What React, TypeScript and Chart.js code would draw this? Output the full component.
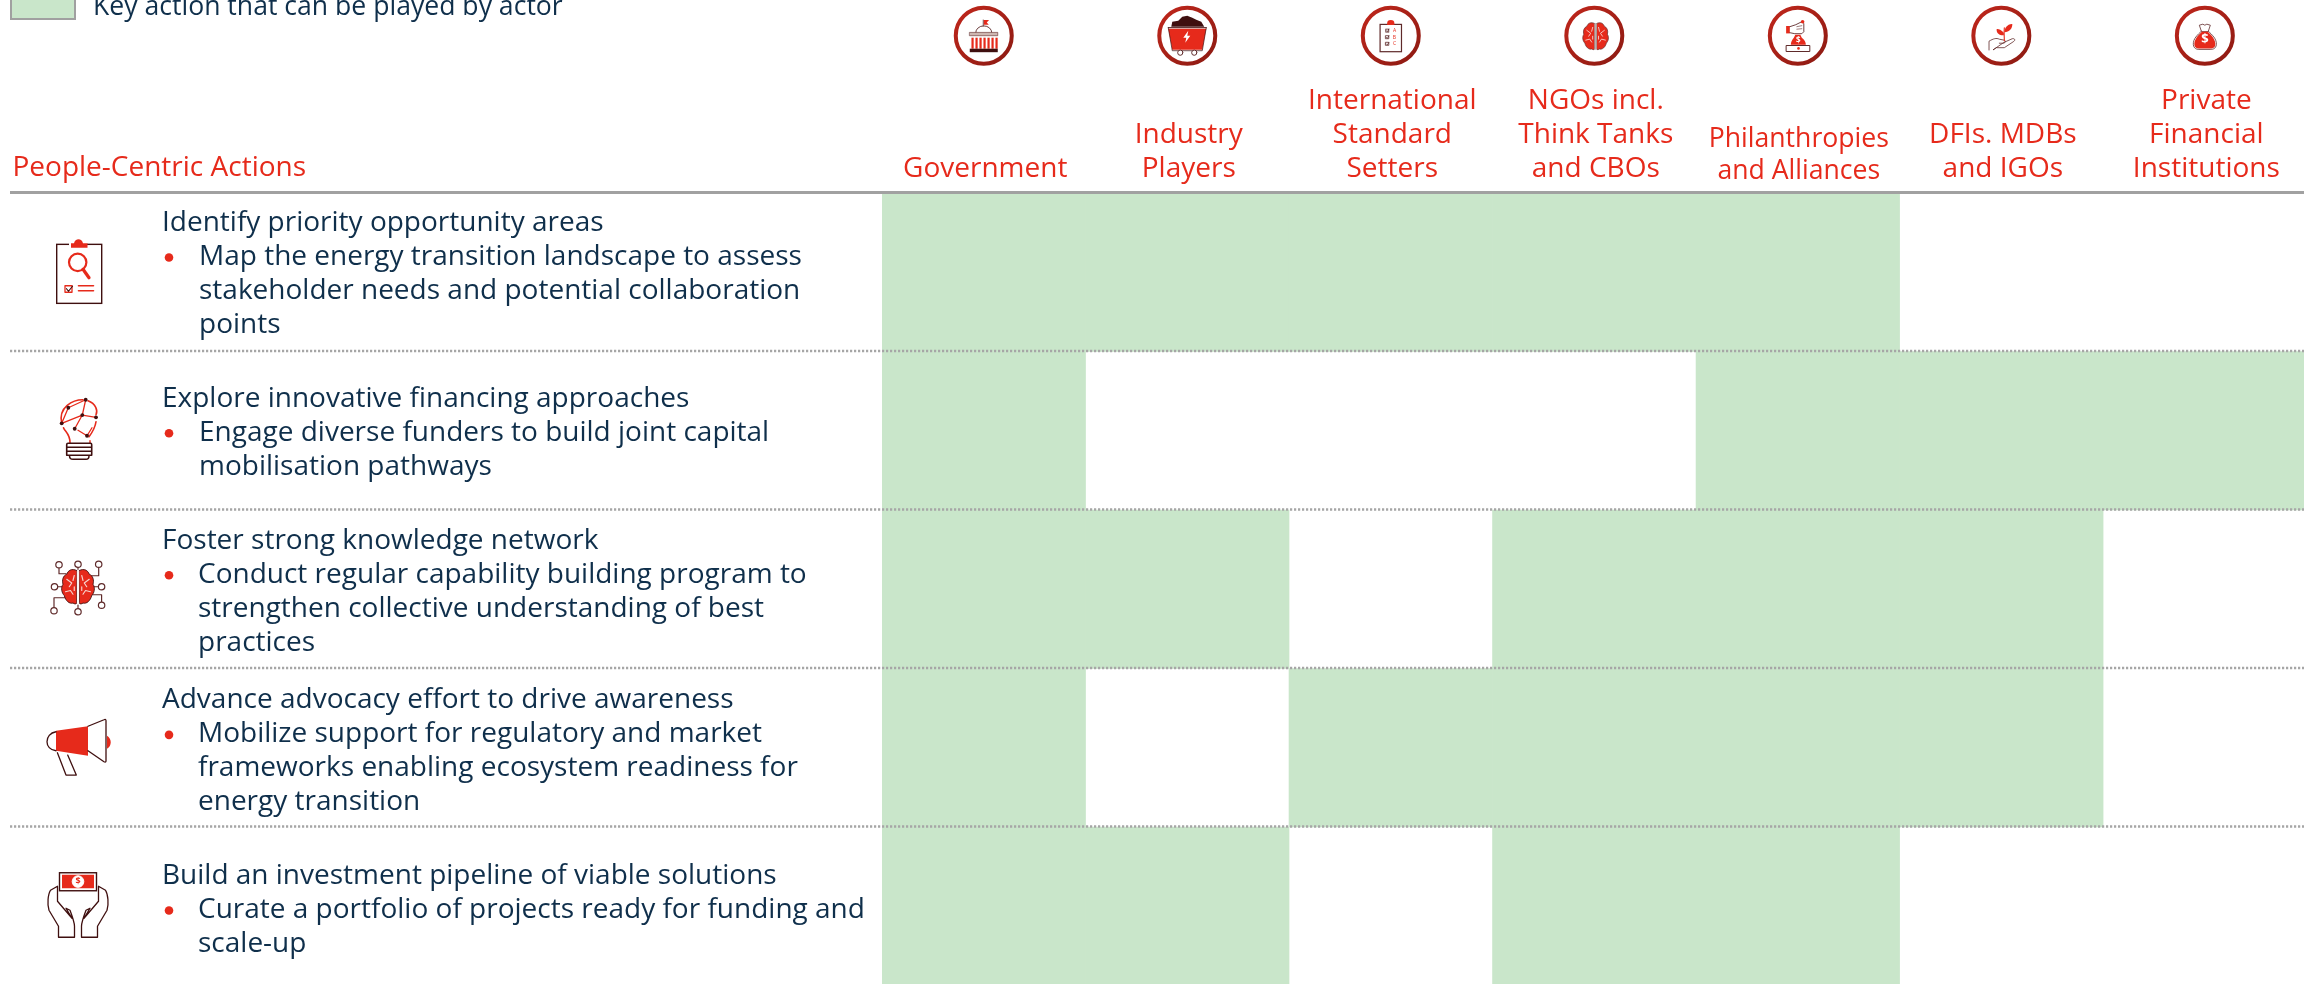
import React, { useEffect, useRef } from "react";
import { Chart, registerables } from "chart.js";

Chart.register(...registerables);

const actors = [
  "Government",
  ["Industry", "Players"],
  ["International", "Standard", "Setters"],
  ["NGOs incl.", "Think Tanks", "and CBOs"],
  ["Philanthropies", "and Alliances"],
  ["DFIs. MDBs", "and IGOs"],
  ["Private", "Financial", "Institutions"],
];

const actionTitles = [
  "Identify priority opportunity areas",
  "Explore innovative financing approaches",
  "Foster strong knowledge network",
  "Advance advocacy effort to drive awareness",
  "Build an investment pipeline of viable solutions",
];

const actionBullets = [
  ["Map the energy transition landscape to assess", "stakeholder needs and potential collaboration", "points"],
  ["Engage diverse funders to build joint capital", "mobilisation pathways"],
  ["Conduct regular capability building program to", "strengthen collective understanding of best", "practices"],
  ["Mobilize support for regulatory and market", "frameworks enabling ecosystem readiness for", "energy transition"],
  ["Curate a portfolio of projects ready for funding and", "scale-up"],
];

const identifyRow = [1, 1, 1, 1, 1, 0, 0];
const exploreRow = [1, 0, 0, 0, 1, 1, 1];
const fosterRow = [1, 1, 0, 1, 1, 1, 0];
const advanceRow = [1, 0, 1, 1, 1, 1, 0];
const buildRow = [1, 1, 0, 1, 1, 0, 0];
const keyRows = [identifyRow, exploreRow, fosterRow, advanceRow, buildRow];

const legendLabel = "Key action that can be played by actor";
const headerLabel = "People-Centric Actions";

const RED = "#e62a1b";
const NAVY = "#0f2f4b";
const GREEN = "#c9e6ca";
const DARK = "#3f0f0f";
const BROWN = "#5f2a2a";
const FONT = '"Open Sans"';
const titleOffsets = [-41.2, -24, -40.5, -39.4, -22.2];
const bulletX = [199, 199, 198, 198, 198];
const PHIL = 4;

type C = CanvasRenderingContext2D;
const fillP = (c: C, d: string, col = RED) => { c.fillStyle = col; c.fill(new Path2D(d)); };
const strokeP = (c: C, d: string, col = BROWN, w = 1.2) => { c.strokeStyle = col; c.lineWidth = w; c.lineJoin = "round"; c.lineCap = "round"; c.stroke(new Path2D(d)); };
const dot = (c: C, x: number, y: number, r: number, col = RED) => { c.fillStyle = col; c.beginPath(); c.arc(x, y, r, 0, 7); c.fill(); };
const ring = (c: C, x: number, y: number, r: number, col = BROWN, w = 1.2, fill?: string) => {
  c.beginPath(); c.arc(x, y, r, 0, 7);
  if (fill) { c.fillStyle = fill; c.fill(); }
  c.strokeStyle = col; c.lineWidth = w; c.stroke();
};

function brain(c: C, s: number, edge = BROWN) {
  c.save(); c.scale(s, s);
  const lobe = "M-1,-13 C-5,-15 -8,-13 -9,-10 C-12,-9 -13,-5 -12,-2 C-14,1 -13,5 -11,7 C-10,11 -7,14 -4,13 C-3,14 -1,14 -1,13 Z";
  const right = "M1,-13 C5,-15 8,-13 9,-10 C12,-9 13,-5 12,-2 C14,1 13,5 11,7 C10,11 7,14 4,13 C3,14 1,14 1,13 Z";
  fillP(c, lobe); fillP(c, right);
  strokeP(c, lobe, edge, 0.7); strokeP(c, right, edge, 0.7);
  strokeP(c, "M-9,-6 L-5,-3 L-7,0 M-3,-9 L-4,-5 M-10,4 L-6,3 L-4,6 M-3,0 L-3,3 M9,-6 L5,-3 L7,0 M3,-9 L4,-5 M10,4 L6,3 L4,6 M3,0 L3,3", "#f7d5d0", 0.9);
  c.restore();
}

const headerIcons: ((c: C) => void)[] = [
  (c) => {
    fillP(c, "M0,-15.7 H5.3 L3,-13.3 L5,-11 H0 Z");
    strokeP(c, "M-0.5,-15.7 V-9.5", BROWN, 0.8);
    strokeP(c, "M-8,-3.3 A8,6.5 0 0 1 8,-3.3", BROWN, 0.9);
    c.fillStyle = "#cdb6b0"; c.fillRect(-14, -3.3, 28, 3.3);
    c.strokeStyle = BROWN; c.lineWidth = 0.6; c.strokeRect(-14, -3.3, 28, 3.3);
    for (let i = 0; i < 7; i++) { c.fillStyle = RED; c.fillRect(-12.3 + i * 4, 2, 2.2, 11); }
    c.fillStyle = DARK; c.fillRect(-14, 13, 28, 3.5);
  },
  (c) => {
    fillP(c, "M-16,-9 L-15,-14 L-9,-15 L-5,-19 L0,-20 L5,-18 L9,-16 L14,-14 L17,-9 Z", DARK);
    strokeP(c, "M-19,-8 H19", DARK, 1);
    fillP(c, "M-19,-7 H19 L15,14 H-15 Z");
    strokeP(c, "M-19,-8 L-15,15 H15 L19,-8", DARK, 0.7);
    fillP(c, "M1,-5 L-4,2 H-1 L-2,7 L3,0 H0 Z", "#fff");
    ring(c, -7, 17, 2.6, BROWN, 1, "#fff");
    ring(c, 7, 17, 2.6, BROWN, 1, "#fff");
  },
  (c) => {
    c.strokeStyle = BROWN; c.lineWidth = 1.2; c.strokeRect(-10.7, -11.3, 21.4, 27.3);
    fillP(c, "M-3.6,-10.6 V-12.5 A3.6,3.2 0 0 1 3.6,-12.5 V-10.6 Z");
    ["A", "B", "C"].forEach((t, i) => {
      const y = -5 + i * 6.6;
      c.strokeStyle = BROWN; c.lineWidth = 0.8; c.strokeRect(-5, y - 1.6, 3, 3);
      strokeP(c, `M-4.4,${y} L-3.5,${y + 1} L-1.8,${y - 1.6}`, DARK, 0.6);
      c.fillStyle = RED; c.font = `5px ${FONT}`; c.textAlign = "center"; c.textBaseline = "middle";
      c.fillText(t, 3.7, y);
    });
  },
  (c) => {
    c.save(); c.translate(1.3, 0.5); brain(c, 0.98);
    c.fillStyle = "#b9b0ae"; c.fillRect(-1.1, -13, 2.2, 26.5);
    c.restore();
  },
  (c) => {
    fillP(c, "M-11.7,-9.7 H-8 V-2.3 H-11.7 Z");
    strokeP(c, "M-8,-9 L-2,-11 L4,-14 L6,-12 L6,-4 L4,-2 H-3 L-8,-3", BROWN, 0.9);
    strokeP(c, "M-1,-9 L4,-10 M-1,-6.5 L4,-7", BROWN, 0.6);
    dot(c, 4.8, -14, 1.8);
    fillP(c, "M-2.5,-1 H2.5 L4,2 C7,4 8,7 8,9 H-7 C-7,7 -6,4 -4,2 Z");
    c.strokeStyle = BROWN; c.lineWidth = 1; c.strokeRect(-11.3, 9.8, 23.3, 6);
    dot(c, 0.7, 12.7, 1.3);
    c.fillStyle = "#fff"; c.font = `bold 8px ${FONT}`; c.textAlign = "center"; c.textBaseline = "middle"; c.fillText("$", 0.5, 4.6);
  },
  (c) => {
    strokeP(c, "M-12.3,14.3 V5.5 C-8,3 -5,2 -2,3.5 L3,4.5 C5,5 4,8 1,7.5 L-2,7.5 M3,6.5 L11,3 C14,2.5 14,5 12,6 L3,12 L-5,12 L-8,14 Z", BROWN, 0.8);
    strokeP(c, "M3,5 C3,1 2.5,-3 3,-8", RED, 1.1);
    fillP(c, "M2.5,-3 C-1,-7 -5,-7 -4.7,-6.2 C-5,-2 -1,0 2.5,-0.5 Z");
    fillP(c, "M3,-3.5 C3,-7 6,-12 11,-11.7 C11,-7 8,-3.5 3,-3.5 Z");
  },
  (c) => {
    strokeP(c, "M-3.5,-4.5 C-7,-1 -12,3 -11.5,9 C-11,13 -8,13.7 -6,13.7 H6 C8,13.7 11,13 11.5,9 C12,3 7,-1 3.5,-4.5 M-3.5,-4.5 L-5.5,-10.5 L-2,-11.5 L0,-10.5 L2,-11.5 L5.5,-10.5 L3.5,-4.5 Z", BROWN, 0.8);
    fillP(c, "M-3,-4 H3 C6,-1 10.5,3 10.5,8.5 C10.5,11.5 8,12.7 6,12.7 H-6 C-8,12.7 -10.5,11.5 -10.5,8.5 C-10.5,3 -6,-1 -3,-4 Z");
    c.fillStyle = "#fff"; c.font = `bold 13px ${FONT}`; c.textAlign = "center"; c.textBaseline = "middle"; c.fillText("$", 0, 4);
  },
];

const rowIcons: ((c: C) => void)[] = [
  (c) => {
    c.strokeStyle = DARK; c.lineWidth = 1.4; c.strokeRect(-21.3, -27.9, 45, 59);
    c.fillStyle = "#fff"; c.fillRect(-9, -30, 18, 5);
    fillP(c, "M-7,-24.5 V-29 H-4 C-3,-34.5 4,-34.5 5,-29 H9.5 V-24.5 Z");
    ring(c, -0.3, -9.9, 8.7, RED, 2.2);
    strokeP(c, "M5,-3 L11,5.5", RED, 3.2);
    c.strokeStyle = RED; c.lineWidth = 1.3; c.strokeRect(-13, 13.5, 7, 6.5);
    strokeP(c, "M-11.5,16.5 L-9.5,19 L-5.5,14", DARK, 1.2);
    strokeP(c, "M0.5,13.5 H15.5 M0.5,18.5 H15.5", RED, 1.6);
  },
  (c) => {
    strokeP(c, "M-16.3,-7.4 C-20,-24 -5,-31 5,-31", RED, 1.6);
    strokeP(c, "M10,-30 C18,-27 20,-20 18,-16", RED, 1.6);
    strokeP(c, "M18,-9 C17,-2 14,2 11,6", RED, 1.6);
    strokeP(c, "M-14.5,-3 C-13,1 -8,3 -8,12", RED, 1.6);
    strokeP(c, "M12,12 V10", RED, 1.4);
    strokeP(c, "M7.7,-31 L-9.7,-23 M7.7,-31 L4.3,-15.7 M-9.7,-23 L-16.3,-7.4 M-16.3,-7.4 L4.3,-15.7 M4.3,-15.7 L-3.3,-2 M4.3,-15.7 L18,-13.4 M9,5 L0,-0.5 M9,5 L14,-3", RED, 1.3);
    [[7.7, -31], [-9.7, -23], [4.3, -15.7], [18, -13.4], [-16.3, -7.4], [-3.3, -2], [9, 5]].forEach((p) => dot(c, p[0], p[1], 1.9, DARK));
    strokeP(c, "M-10,12.5 H12.5 Q13.7,12.5 13.7,14 V24 M-11.3,24 V14 Q-11.3,12.5 -10,12.5 M-11.3,16.5 H13.7 M-11.3,20.5 H13.7 M-11.3,24.5 H13.7", DARK, 1.6);
    strokeP(c, "M-8.5,25 C-8.5,28.6 -6,28.6 -5,28.6 H8 C11,28.6 11,25 11,25", DARK, 1.5);
  },
  (c) => {
    c.save(); c.translate(0, -2.5);
    strokeP(c, "M-19,-19 V-13 H-12 M0,-19 V-15 M20.7,-19 V-11 H13 M-20.5,0 H-15 M20.5,0 H15 M-24,21 V11 H-12 M23.6,15 V8 H12 M0,17 V21", BROWN, 1.2);
    [[-19, -22], [0, -22.5], [20.7, -22.5], [-23.5, 0], [23.6, 0], [-24, 24], [0, 25], [23.6, 18.5]].forEach((p) => ring(c, p[0], p[1], 3.2, BROWN, 1.2, "#fff"));
    brain(c, 1.25, DARK);
    c.fillStyle = "#fff"; c.fillRect(-0.9, -17, 1.8, 35);
    c.restore();
  },
  (c) => {
    fillP(c, "M-22,-17 L10,-21.5 V8 L-22,3 Z");
    strokeP(c, "M10,-21.5 L26,-28 Q28,-29 28,-27 V13 Q28,15 26,14 L10,3", DARK, 1.3);
    strokeP(c, "M-22,-16 C-34,-14 -34,2 -22,3", DARK, 1.3);
    fillP(c, "M29,-12 C34,-9 34,-2 29,1 Z");
    strokeP(c, "M-20.6,5 L-12,27.3 H-1.7 L-10.3,7.3", DARK, 1.3);
  },
  (c) => {
    c.strokeStyle = DARK; c.lineWidth = 1.4; c.strokeRect(-18.5, -33.5, 37, 18);
    fillP(c, "M-16,-31.5 H16 V-18 H-16 Z");
    ring(c, 0, -24.7, 5.8, "#fff", 1, "#fff");
    c.fillStyle = RED; c.font = `bold 9px ${FONT}`; c.textAlign = "center"; c.textBaseline = "middle"; c.fillText("$", 0, -24.5);
    strokeP(c, "M-19.5,31 V20 L-29,4 C-31,-2 -30,-12 -27.5,-16 L-20.5,-20 V-5 L-6,12 L-12,2 L-8,4 C-5,12 -3.5,16 -3.5,20 V31 Z", DARK, 1.3);
    strokeP(c, "M19.5,31 V20 L29,4 C31,-2 30,-12 27.5,-16 L20.5,-20 V-5 L6,12 L12,2 L8,4 C5,12 3.5,16 3.5,20 V31 Z", DARK, 1.3);
  },
];

const tableDecor = {
  id: "tableDecor",
  beforeDraw(chart: any) {
    if (chart.$shifted) return;
    const it = chart.scales.x.getLabelItems()[PHIL];
    if (it) it.options.translation = [it.options.translation[0] - 0.5, it.options.translation[1] + 1];
    chart.$shifted = true;
  },
  afterDatasetsDraw(chart: any) {
    const { ctx: c, scales } = chart;
    const x = scales.x, y = scales.y;
    const right = 2304;
    c.save();
    c.setLineDash([2.2, 1.8]);
    c.strokeStyle = "#a6a6a6"; c.lineWidth = 2.4;
    for (let i = 1; i < keyRows.length; i++) {
      const p = y.getPixelForValue(i) - 0.5;
      c.beginPath(); c.moveTo(10, p); c.lineTo(right, p); c.stroke();
    }
    c.setLineDash([]);
    c.strokeStyle = "#a1a1a1"; c.lineWidth = 3;
    c.beginPath(); c.moveTo(10, y.getPixelForValue(0) - 0.5); c.lineTo(right, y.getPixelForValue(0) - 0.5); c.stroke();

    c.fillStyle = GREEN; c.fillRect(11, -6, 64, 25);
    c.strokeStyle = "#a0a0a0"; c.lineWidth = 2; c.strokeRect(11, -6, 64, 25);
    c.textAlign = "left"; c.textBaseline = "alphabetic";
    c.fillStyle = NAVY; c.font = `26.6px ${FONT}`;
    c.fillText(legendLabel, 93, 15);
    c.fillStyle = RED; c.font = `28px ${FONT}`; c.fillText(headerLabel, 12.5, 175.5);

    actionTitles.forEach((t, i) => {
      const mid = y.getPixelForValue(i + 0.5);
      const base = mid + titleOffsets[i];
      c.fillStyle = NAVY; c.font = `28px ${FONT}`; c.textAlign = "left"; c.textBaseline = "alphabetic";
      c.fillText(t, 162, base);
      actionBullets[i].forEach((l, j) => c.fillText(l, bulletX[i], base + 34 * (j + 1)));
      dot(c, 169, base + 26.5, 4.3);
    });

    actors.forEach((_, i) => {
      const cx = x.getPixelForValue(i), cy = 35.7;
      const g = c.createLinearGradient(cx - 30, cy - 30, cx + 30, cy + 30);
      g.addColorStop(0, "#c2271c"); g.addColorStop(1, "#8a1a12");
      c.beginPath(); c.arc(cx, cy, 28, 0, 7); c.strokeStyle = g; c.lineWidth = 4; c.stroke();
      c.save(); c.translate(cx, cy); headerIcons[i](c); c.restore();
    });
    actionTitles.forEach((_, i) => {
      c.save(); c.translate(78, y.getPixelForValue(i + 0.5)); rowIcons[i](c); c.restore();
    });
    c.restore();
  },
};

export default function App() {
  const ref = useRef<HTMLCanvasElement>(null);
  useEffect(() => {
    const chart = new Chart(ref.current!, {
      type: "bar",
      data: {
        labels: actors as any,
        datasets: keyRows.map((row, r) => ({
          label: actionTitles[r],
          data: row.map((v) => (v ? [r, r + 1] : null)) as any,
          backgroundColor: GREEN,
          borderWidth: 0,
          barPercentage: 1,
          categoryPercentage: 1,
          grouped: false,
          clip: { left: 0, top: 0, right: -2.6, bottom: 0 },
        })),
      },
      options: {
        animation: false,
        responsive: false,
        maintainAspectRatio: false,
        layout: { padding: { left: 882, right: 3.4, top: 0, bottom: 0.5 } },
        plugins: { legend: { display: false }, tooltip: { enabled: false } },
        scales: {
          x: {
            position: "top",
            grid: { display: false, drawTicks: false },
            border: { display: false },
            afterFit(s: any) { s.height = 193; },
            ticks: {
              autoSkip: false,
              maxRotation: 0,
              minRotation: 0,
              padding: 7,
              labelOffset: 1.5,
              color: RED,
              font: (ctx: any) =>
                ctx.index === PHIL
                  ? { family: FONT, size: 26.6, lineHeight: 32 / 26.6 }
                  : { family: FONT, size: 28, lineHeight: 34 / 28 },
            },
          },
          y: { display: false, reverse: true, min: 0, max: keyRows.length },
        },
      },
      plugins: [tableDecor as any],
    });
    return () => chart.destroy();
  }, []);
  return (
    <div style={{ position: "fixed", left: 0, top: 0, width: 2310, height: 984, overflow: "hidden", background: "#fff" }}>
      <canvas ref={ref} width={2310} height={986} style={{ display: "block", width: 2310, height: 986 }} />
    </div>
  );
}
